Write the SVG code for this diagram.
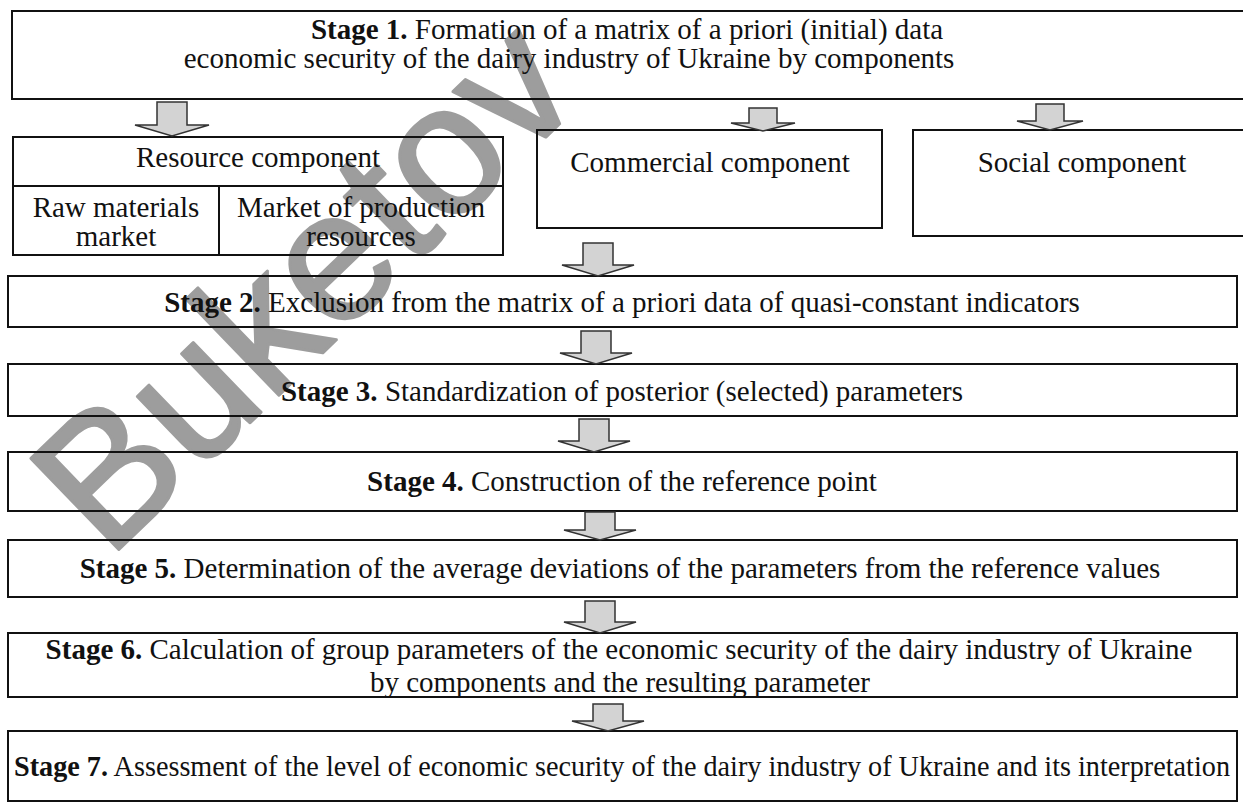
<svg xmlns="http://www.w3.org/2000/svg" width="1243" height="807" viewBox="0 0 1243 807">
<style>
.box{fill:none;stroke:#111;stroke-width:2}
.t{font-family:"Liberation Serif","Times New Roman",serif;font-size:29px;fill:#111}
.b{font-weight:bold}
.arrow{fill:#d3d3d3;stroke:#333;stroke-width:1.5;stroke-linejoin:miter}
.wm{font-family:"Liberation Sans",Arial,sans-serif;font-size:184px;fill:#9d9d9d;stroke:#9d9d9d;stroke-width:3;stroke-linejoin:round}
</style>
<rect width="1243" height="807" fill="#fff"/>
<text class="wm" transform="translate(108,560) rotate(-44)">Buketov</text>

<g id="stage1">
<rect class="box" x="12" y="11" width="1240" height="88"/>
<text class="t" x="627" y="39" text-anchor="middle"><tspan class="b">Stage 1.</tspan> Formation of a matrix of a priori (initial) data</text>
<text class="t" x="569" y="68" text-anchor="middle">economic security of the dairy industry of Ukraine by components</text>
</g>

<g id="resource">
<rect class="box" x="13" y="137" width="490" height="118"/>
<line class="box" x1="13" y1="186" x2="503" y2="186"/>
<line class="box" x1="219" y1="186" x2="219" y2="255"/>
<text class="t" x="258" y="167" text-anchor="middle">Resource component</text>
<text class="t" x="116" y="217" text-anchor="middle">Raw materials</text>
<text class="t" x="116" y="246" text-anchor="middle">market</text>
<text class="t" x="361" y="217" text-anchor="middle">Market of production</text>
<text class="t" x="361" y="246" text-anchor="middle">resources</text>
</g>

<g id="commercial">
<rect class="box" x="537" y="130" width="345" height="98"/>
<text class="t" x="710" y="172" text-anchor="middle">Commercial component</text>
</g>

<g id="social">
<rect class="box" x="913" y="130" width="340" height="106"/>
<text class="t" x="1082" y="172" text-anchor="middle">Social component</text>
</g>

<g id="stage2">
<rect class="box" x="8" y="276" width="1229" height="51"/>
<text class="t" x="622" y="312" text-anchor="middle"><tspan class="b">Stage 2.</tspan> Exclusion from the matrix of a priori data of quasi-constant indicators</text>
</g>

<g id="stage3">
<rect class="box" x="8" y="364" width="1229" height="52"/>
<text class="t" x="622" y="401" text-anchor="middle"><tspan class="b">Stage 3.</tspan> Standardization of posterior (selected) parameters</text>
</g>

<g id="stage4">
<rect class="box" x="8" y="452" width="1229" height="59"/>
<text class="t" x="622" y="491" text-anchor="middle"><tspan class="b">Stage 4.</tspan> Construction of the reference point</text>
</g>

<g id="stage5">
<rect class="box" x="8" y="540" width="1229" height="57"/>
<text class="t" x="620" y="578" text-anchor="middle"><tspan class="b">Stage 5.</tspan> Determination of the average deviations of the parameters from the reference values</text>
</g>

<g id="stage6">
<rect class="box" x="8" y="633" width="1229" height="64"/>
<text class="t" x="619" y="659" text-anchor="middle"><tspan class="b">Stage 6.</tspan> Calculation of group parameters of the economic security of the dairy industry of Ukraine</text>
<text class="t" x="620" y="692" text-anchor="middle">by components and the resulting parameter</text>
</g>

<g id="stage7">
<rect class="box" x="8" y="731" width="1229" height="70"/>
<text class="t" x="14" y="776" textLength="1216" lengthAdjust="spacingAndGlyphs"><tspan class="b">Stage 7.</tspan> Assessment of the level of economic security of the dairy industry of Ukraine and its interpretation</text>
</g>

<g id="connectors">
<path class="arrow" d="M157,102 L187,102 L187,125 L209,125 L172,136 L135,125 L157,125 Z"/>
<path class="arrow" d="M749,108 L777,108 L777,123 L795,123 L763,131 L731,123 L749,123 Z"/>
<path class="arrow" d="M1036,104 L1064,104 L1064,121 L1083,121 L1050,130 L1017,121 L1036,121 Z"/>
<path class="arrow" d="M583,243 L613,243 L613,265 L634,265 L598,276 L562,265 L583,265 Z"/>
<path class="arrow" d="M581,331 L611,331 L611,353 L632,353 L596,364 L560,353 L581,353 Z"/>
<path class="arrow" d="M579,419 L609,419 L609,441 L630,441 L594,452 L558,441 L579,441 Z"/>
<path class="arrow" d="M585,512 L615,512 L615,530 L636,530 L600,540 L564,530 L585,530 Z"/>
<path class="arrow" d="M585,601 L615,601 L615,622 L636,622 L600,633 L564,622 L585,622 Z"/>
<path class="arrow" d="M593,704 L623,704 L623,721 L644,721 L608,731 L572,721 L593,721 Z"/>
</g>
</svg>
